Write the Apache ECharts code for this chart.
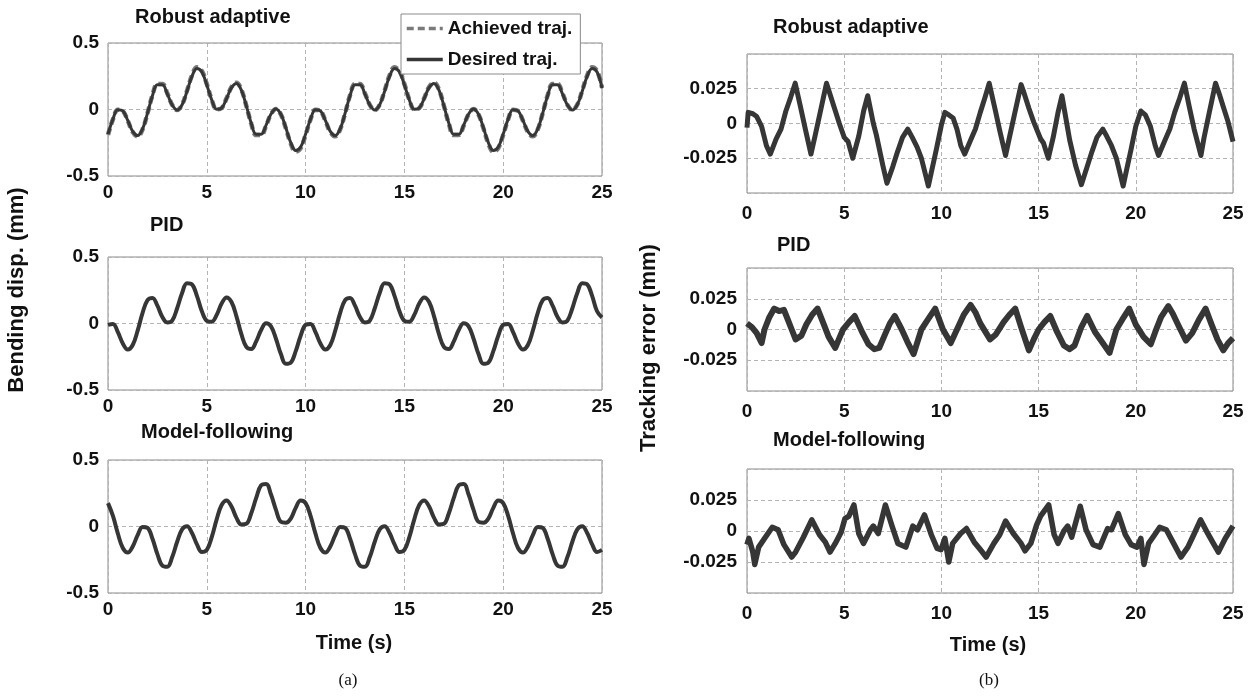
<!DOCTYPE html>
<html><head><meta charset="utf-8">
<script src="https://cdn.jsdelivr.net/npm/echarts@6/dist/echarts.min.js"></script>
<style>html,body{margin:0;padding:0;background:#fff}#c{width:1254px;height:696px}</style>
</head><body><div id="c"></div>
<script>
const FONT = 'Liberation Sans, Arial, Helvetica, sans-serif';

// time samples (s) for the bending displacement plots
const tDisp = [0,0.25,0.5,0.75,1,1.25,1.5,1.75,2,2.25,2.5,2.75,3,3.25,3.5,3.75,4,4.25,4.5,4.75,
  5,5.25,5.5,5.75,6,6.25,6.5,6.75,7,7.25,7.5,7.75,8,8.25,8.5,8.75,9,9.25,9.5,9.75,
  10,10.25,10.5,10.75,11,11.25,11.5,11.75,12,12.25,12.5,12.75,13,13.25,13.5,13.75,14,14.25,14.5,14.75,
  15,15.25,15.5,15.75,16,16.25,16.5,16.75,17,17.25,17.5,17.75,18,18.25,18.5,18.75,19,19.25,19.5,19.75,
  20,20.25,20.5,20.75,21,21.25,21.5,21.75,22,22.25,22.5,22.75,23,23.25,23.5,23.75,24,24.25,24.5,24.75,25];

// Robust adaptive: desired trajectory (mm)
const robustDesired = [
  -0.185,-0.072,-0.002,-0.011,-0.082,-0.164,-0.196,-0.145,-0.027,0.104,0.186,0.186,0.118,0.034,-0.004,0.036,0.138,0.249,0.308,0.282,
  0.185,0.072,0.002,0.011,0.082,0.164,0.196,0.145,0.027,-0.104,-0.186,-0.186,-0.118,-0.034,0.004,-0.036,-0.138,-0.249,-0.308,-0.282,
  -0.185,-0.072,-0.002,-0.011,-0.082,-0.164,-0.196,-0.145,-0.027,0.104,0.186,0.186,0.118,0.034,-0.004,0.036,0.138,0.249,0.308,0.282,
  0.185,0.072,0.002,0.011,0.082,0.164,0.196,0.145,0.027,-0.104,-0.186,-0.186,-0.118,-0.034,0.004,-0.036,-0.138,-0.249,-0.308,-0.282,
  -0.185,-0.072,-0.002,-0.011,-0.082,-0.164,-0.196,-0.145,-0.027,0.104,0.186,0.186,0.118,0.034,-0.004,0.036,0.138,0.249,0.308,0.282,0.16];
// Robust adaptive: achieved trajectory (mm)
const robustAchieved = [
  -0.191,-0.074,-0.002,-0.011,-0.084,-0.169,-0.202,-0.149,-0.028,0.107,0.192,0.192,0.122,0.035,-0.004,0.037,0.142,0.256,0.317,0.290,
  0.191,0.074,0.002,0.011,0.084,0.169,0.202,0.149,0.028,-0.107,-0.192,-0.192,-0.122,-0.035,0.004,-0.037,-0.142,-0.256,-0.317,-0.290,
  -0.191,-0.074,-0.002,-0.011,-0.084,-0.169,-0.202,-0.149,-0.028,0.107,0.192,0.192,0.122,0.035,-0.004,0.037,0.142,0.256,0.317,0.290,
  0.191,0.074,0.002,0.011,0.084,0.169,0.202,0.149,0.028,-0.107,-0.192,-0.192,-0.122,-0.035,0.004,-0.037,-0.142,-0.256,-0.317,-0.290,
  -0.191,-0.074,-0.002,-0.011,-0.084,-0.169,-0.202,-0.149,-0.028,0.107,0.192,0.192,0.122,0.035,-0.004,0.037,0.142,0.256,0.317,0.290,0.165];
// PID: bending displacement (mm)
const pidDisp = [
  -0.010,-0.003,-0.065,-0.150,-0.196,-0.162,-0.054,0.080,0.176,0.192,0.134,0.049,0.008,0.022,0.115,0.230,0.303,0.294,0.208,0.092,
  0.020,0.013,0.065,0.150,0.196,0.162,0.054,-0.080,-0.176,-0.192,-0.134,-0.049,0.002,-0.022,-0.115,-0.230,-0.303,-0.294,-0.208,-0.092,
  -0.010,-0.003,-0.065,-0.150,-0.196,-0.162,-0.054,0.080,0.176,0.192,0.134,0.049,0.008,0.022,0.115,0.230,0.303,0.294,0.208,0.092,
  0.020,0.013,0.065,0.150,0.196,0.162,0.054,-0.080,-0.176,-0.192,-0.134,-0.049,0.002,-0.022,-0.115,-0.230,-0.303,-0.294,-0.208,-0.092,
  -0.010,-0.003,-0.065,-0.150,-0.196,-0.162,-0.054,0.080,0.176,0.192,0.134,0.049,0.008,0.022,0.115,0.230,0.303,0.294,0.208,0.092,0.045];
// Model-following: bending displacement (mm)
const mfDisp = [
  0.176,0.080,-0.054,-0.162,-0.196,-0.150,-0.065,-0.003,-0.010,-0.092,-0.208,-0.294,-0.303,-0.230,-0.115,-0.022,0.002,-0.049,-0.134,-0.192,
  -0.176,-0.080,0.054,0.162,0.196,0.150,0.065,0.015,0.020,0.100,0.215,0.310,0.320,0.240,0.125,0.035,0.028,0.060,0.140,0.195,
  0.176,0.080,-0.054,-0.162,-0.196,-0.150,-0.065,-0.003,-0.010,-0.092,-0.208,-0.294,-0.303,-0.230,-0.115,-0.022,0.002,-0.049,-0.134,-0.192,
  -0.176,-0.080,0.054,0.162,0.196,0.150,0.065,0.015,0.020,0.100,0.215,0.310,0.320,0.240,0.125,0.035,0.028,0.060,0.140,0.195,
  0.176,0.080,-0.054,-0.162,-0.196,-0.150,-0.065,-0.003,-0.010,-0.092,-0.208,-0.294,-0.303,-0.230,-0.115,-0.022,0.002,-0.049,-0.134,-0.192,-0.176];

// Tracking errors (mm): time stamps and values
const robustErrT = [0,0.06,0.3,0.5,0.75,1,1.2,1.5,1.75,2,2.25,2.48,2.75,3,3.29,3.5,3.75,4.09,4.25,4.5,
  4.75,5,5.2,5.44,5.75,6,6.21,6.5,6.65,7,7.2,7.5,7.75,8,8.27,8.5,8.75,8.97,9.33,9.5,9.75,10,
  10.18,10.4,10.6,10.8,11,11.2,11.5,11.75,12,12.25,12.46,12.75,13,13.3,13.5,13.75,14.1,14.25,14.5,14.75,
  15.1,15.25,15.5,15.75,16,16.2,16.45,16.6,16.9,17.2,17.5,17.75,18,18.3,18.5,18.75,19,19.35,19.5,19.75,20,
  20.26,20.5,20.75,21,21.17,21.5,21.75,22,22.25,22.5,22.75,23,23.35,23.5,23.75,24.1,24.3,24.5,24.75,25];
const robustErrV = [-0.003,0.008,0.007,0.005,-0.002,-0.016,-0.022,-0.011,-0.004,0.009,0.019,0.029,0.012,-0.004,-0.022,-0.009,0.007,0.029,0.022,0.011,
  0.000,-0.010,-0.013,-0.025,-0.009,0.009,0.020,0.000,-0.008,-0.031,-0.043,-0.031,-0.020,-0.010,-0.004,-0.010,-0.017,-0.025,-0.045,-0.034,-0.018,-0.001,
  0.008,0.006,0.004,-0.004,-0.016,-0.022,-0.012,-0.004,0.008,0.019,0.029,0.011,-0.005,-0.023,-0.010,0.006,0.028,0.022,0.011,0.001,
  -0.011,-0.014,-0.025,-0.010,0.008,0.020,0.000,-0.012,-0.030,-0.044,-0.031,-0.020,-0.010,-0.004,-0.009,-0.016,-0.025,-0.045,-0.035,-0.019,-0.002,
  0.009,0.006,-0.002,-0.016,-0.023,-0.012,-0.004,0.008,0.018,0.029,0.012,-0.004,-0.023,-0.011,0.006,0.029,0.021,0.012,0.001,-0.013];
const pidErrT = [0,0.25,0.5,0.75,0.9,1.15,1.4,1.65,1.9,2.1,2.3,2.5,2.8,3.05,3.35,3.63,3.93,4.2,4.54,4.75,
  4.94,5.25,5.54,5.95,6.25,6.55,6.8,7.1,7.35,7.6,7.96,8.25,8.57,8.97,9.3,9.68,10.08,10.48,10.8,11.15,
  11.5,11.75,12,12.5,12.8,13.2,13.5,13.8,14.1,14.5,14.75,15,15.3,15.6,15.95,16.3,16.6,16.85,17.2,17.5,
  17.9,18.3,18.65,19,19.3,19.66,20,20.4,20.77,21,21.3,21.67,21.9,22.2,22.58,22.9,23.25,23.59,23.9,24.2,
  24.5,24.75,25];
const pidErrV = [0.005,0.002,-0.003,-0.011,0.000,0.010,0.017,0.015,0.016,0.008,0.000,-0.008,-0.005,0.004,0.012,0.017,0.005,-0.006,-0.015,-0.007,
  0.000,0.006,0.011,-0.003,-0.012,-0.016,-0.015,-0.004,0.005,0.011,0.000,-0.010,-0.020,0.000,0.008,0.017,0.000,-0.011,0.000,0.012,
  0.020,0.014,0.005,-0.008,-0.004,0.006,0.012,0.017,0.002,-0.017,-0.008,0.000,0.006,0.011,-0.002,-0.013,-0.016,-0.013,0.002,0.011,
  -0.002,-0.011,-0.019,0.000,0.008,0.017,0.004,-0.006,-0.012,-0.002,0.010,0.019,0.013,0.003,-0.009,-0.003,0.008,0.017,0.004,-0.008,
  -0.017,-0.011,-0.007];
const mfErrT = [0,0.1,0.3,0.4,0.6,0.9,1.3,1.6,1.9,2.3,2.5,2.9,3.33,3.73,4.03,4.27,4.54,4.84,5.04,5.24,
  5.5,5.75,5.99,6.35,6.5,6.75,7.12,7.46,7.76,8.17,8.53,8.77,9.13,9.48,9.78,9.98,10.18,10.38,10.58,10.99,
  11.29,11.69,12,12.3,12.7,13,13.3,13.7,14.1,14.3,14.6,14.9,15.1,15.52,15.8,16,16.3,16.5,16.7,17.14,
  17.44,17.8,18.15,18.55,18.75,19.1,19.46,19.76,20.06,20.26,20.42,20.66,20.97,21.23,21.57,21.98,22.32,22.68,22.98,23.33,
  23.7,23.99,24.25,24.6,25];
const mfErrV = [-0.011,-0.006,-0.017,-0.027,-0.013,-0.006,0.003,0.001,-0.011,-0.021,-0.017,-0.005,0.009,-0.003,-0.009,-0.017,-0.010,-0.001,0.010,0.012,
  0.021,-0.002,-0.010,0.001,0.004,-0.002,0.021,0.004,-0.010,-0.013,0.004,0.001,0.013,-0.003,-0.014,-0.015,-0.006,-0.025,-0.010,-0.002,
  0.002,-0.009,-0.015,-0.021,-0.010,-0.003,0.008,-0.002,-0.010,-0.016,-0.010,0.005,0.012,0.021,-0.003,-0.010,0.000,0.004,-0.005,0.020,
  0.001,-0.011,-0.013,0.002,0.001,0.014,-0.003,-0.011,-0.013,-0.006,-0.027,-0.010,-0.003,0.003,0.001,-0.011,-0.021,-0.013,-0.003,0.009,
  -0.002,-0.010,-0.017,-0.006,0.004];

const panelTitles = ['Robust adaptive','PID','Model-following'];
const legendNames = ['Achieved traj.','Desired traj.'];

function zip(t, v){ return t.map((x,i)=>[x, v[i]]); }

const grids = [
  {left:108, top:43,  width:494, height:133},
  {left:108, top:257, width:494, height:133},
  {left:108, top:460, width:494, height:133},
  {left:747, top:54,  width:486, height:139},
  {left:747, top:268, width:486, height:123},
  {left:747, top:469, width:486, height:124}
].map(g => Object.assign(g, {show:true, borderColor:'#8a8a8a', borderWidth:1, containLabel:false, outerBoundsMode:'none'}));

const gridLine = {show:true, lineStyle:{color:'#b4b4b4', type:[4,3], width:1}};
const tickFont = {fontFamily:FONT, fontWeight:'bold', fontSize:19, color:'#111'};

const xAxes = grids.map((g,i)=>({
  type:'value', gridIndex:i, min:0, max:25, interval:5,
  axisLine:{show:false}, axisTick:{show:false},
  axisLabel:Object.assign({margin: i<3 ? 7 : 11}, tickFont),
  splitLine:gridLine
}));
const yAxes = grids.map((g,i)=> i<3 ? {
  type:'value', gridIndex:i, min:-0.5, max:0.5, interval:0.5,
  axisLine:{show:false}, axisTick:{show:false},
  axisLabel:Object.assign({margin:9, formatter:v=>Math.abs(v)<1e-9?'0':String(v)}, tickFont),
  splitLine:gridLine
} : {
  type:'value', gridIndex:i, min:-0.05, max:0.05, interval:0.025,
  axisLine:{show:false}, axisTick:{show:false},
  axisLabel:Object.assign({margin:10, formatter:v=>{
    if (Math.abs(v)<1e-9) return '0';
    if (Math.abs(Math.abs(v)-0.05)<1e-9) return '';
    return v.toFixed(3);
  }}, tickFont),
  splitLine:gridLine
});

const dark = '#363636';
const series = [
  {name:legendNames[0], type:'line', xAxisIndex:0, yAxisIndex:0, data:zip(tDisp, robustAchieved),
   smooth:0.4, symbol:'none', lineStyle:{color:'#7a7a7a', width:4.5, type:[7,4]}, itemStyle:{color:'#7a7a7a'}, z:2},
  {name:legendNames[1], type:'line', xAxisIndex:0, yAxisIndex:0, data:zip(tDisp, robustDesired),
   smooth:0.4, symbol:'none', lineStyle:{color:dark, width:3}, itemStyle:{color:dark}, z:3},
  {type:'line', xAxisIndex:1, yAxisIndex:1, data:zip(tDisp, pidDisp),
   smooth:0.4, symbol:'none', lineStyle:{color:dark, width:4}, z:3},
  {type:'line', xAxisIndex:2, yAxisIndex:2, data:zip(tDisp, mfDisp),
   smooth:0.4, symbol:'none', lineStyle:{color:dark, width:4}, z:3},
  {type:'line', xAxisIndex:3, yAxisIndex:3, data:zip(robustErrT, robustErrV),
   symbol:'none', lineStyle:{color:dark, width:5, join:'round'}, z:3},
  {type:'line', xAxisIndex:4, yAxisIndex:4, data:zip(pidErrT, pidErrV),
   symbol:'none', lineStyle:{color:dark, width:6, join:'round'}, z:3},
  {type:'line', xAxisIndex:5, yAxisIndex:5, data:zip(mfErrT, mfErrV),
   symbol:'none', lineStyle:{color:dark, width:5.5, join:'round'}, z:3}
];

const titleFont = {fontFamily:FONT, fontWeight:'bold', fontSize:20, fill:'#111'};
function txt(text, x, y, extra){
  return {type:'text', x:x, y:y, z:100, style:Object.assign({text:text, textAlign:'left', textVerticalAlign:'middle'}, titleFont, extra||{})};
}
const graphic = [
  txt(panelTitles[0], 135, 17),
  txt(panelTitles[1], 150, 225),
  txt(panelTitles[2], 141, 432),
  txt(panelTitles[0], 773, 27),
  txt(panelTitles[1], 777, 245),
  txt(panelTitles[2], 773, 440),
  txt('Time (s)', 354, 643, {textAlign:'center'}),
  txt('Time (s)', 988, 645, {textAlign:'center'}),
  txt('(a)', 348, 681, {textAlign:'center', fontFamily:'Liberation Serif, Times New Roman, serif', fontWeight:'normal', fontSize:17}),
  txt('(b)', 989, 681, {textAlign:'center', fontFamily:'Liberation Serif, Times New Roman, serif', fontWeight:'normal', fontSize:17}),
  Object.assign(txt('Bending disp. (mm)', 17, 290, {textAlign:'center', fontSize:22}), {rotation:Math.PI/2}),
  Object.assign(txt('Tracking error (mm)', 649, 348, {textAlign:'center', fontSize:22}), {rotation:Math.PI/2})
];

const chart = echarts.init(document.getElementById('c'), null, {renderer:'canvas'});
chart.setOption({
  animation:false,
  backgroundColor:'#fff',
  grid:grids, xAxis:xAxes, yAxis:yAxes, series:series, graphic:graphic,
  legend:{
    data:legendNames, orient:'vertical', left:401, top:14,
    itemWidth:36, itemHeight:16, itemGap:12, padding:[5,8,5,4],
    itemStyle:{opacity:0},
    lineStyle:{width:3.5},
    borderColor:'#8a8a8a', borderWidth:1, backgroundColor:'#fff', z:50,
    textStyle:{fontFamily:FONT, fontWeight:'bold', fontSize:19, color:'#111'}
  }
});
</script></body></html>
